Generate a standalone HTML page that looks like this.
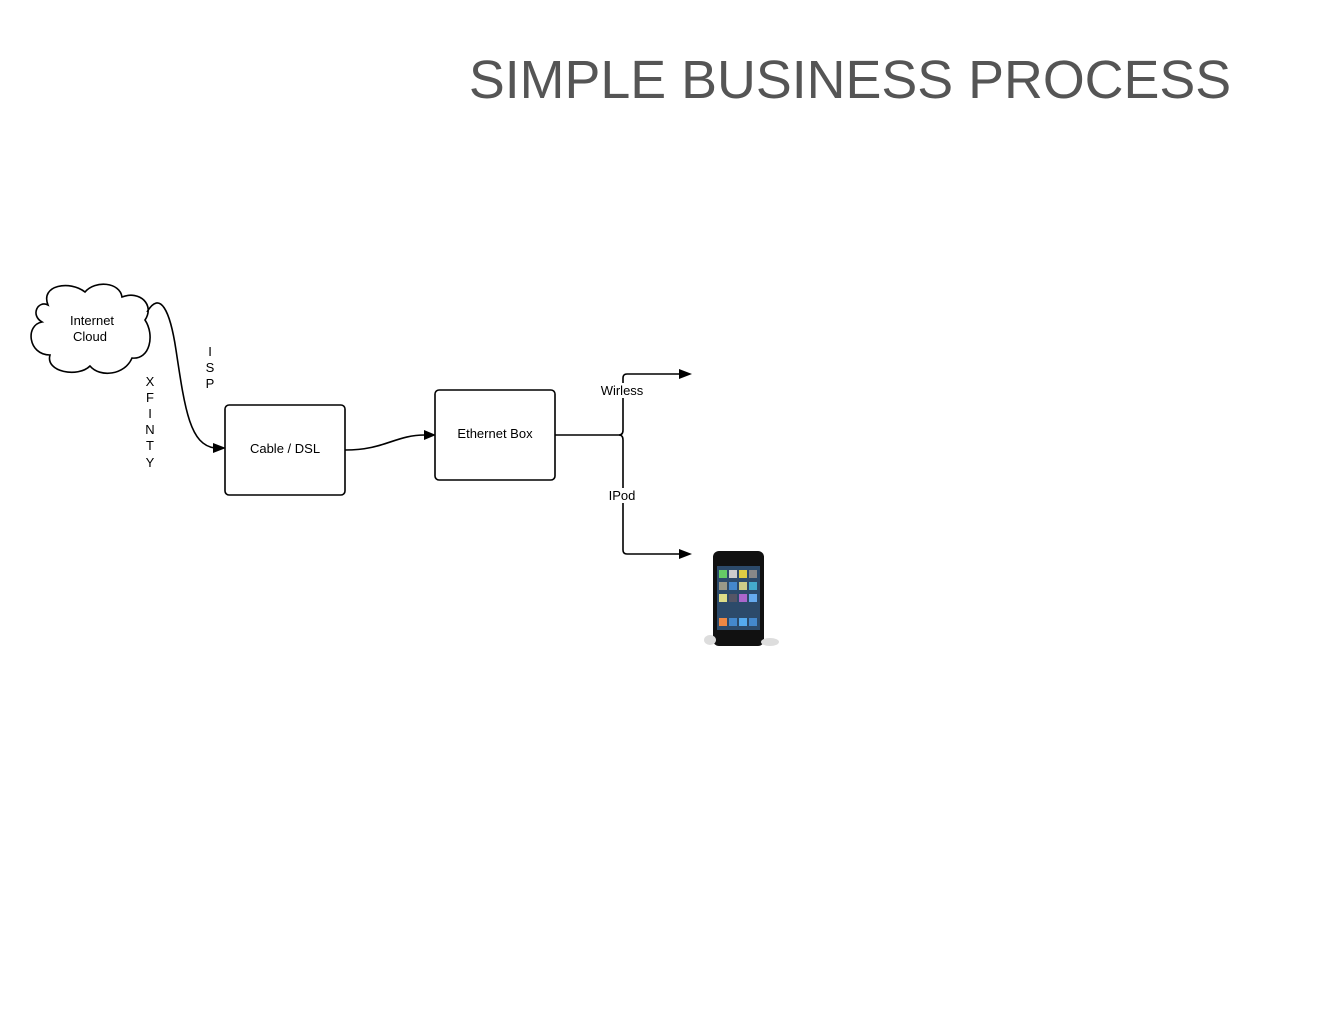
<!DOCTYPE html>
<html><head><meta charset="utf-8"><style>
body{margin:0;width:1320px;height:1020px;background:#fff;overflow:hidden;font-family:"Liberation Sans",sans-serif}
</style></head><body>
<svg width="1320" height="1020" xmlns="http://www.w3.org/2000/svg" font-family="Liberation Sans, sans-serif">
<text x="850" y="98" font-size="53.8" fill="#555" text-anchor="middle">SIMPLE BUSINESS PROCESS</text>
<path d="M48,305 C40,285 70,280 85,292 C95,280 120,282 122,297 C140,290 155,305 145,320 C155,335 150,360 132,358 C125,375 100,378 90,366 C78,378 45,372 50,355 C28,355 25,325 42,322 C30,315 38,300 48,305 Z" fill="#fff" stroke="#000" stroke-width="1.6"/>
<text x="92" y="325" font-size="13" text-anchor="middle">Internet</text>
<text x="90" y="341" font-size="13" text-anchor="middle">Cloud</text>
<path d="M147,312 C160,290 170,310 176,350 C185,410 190,445 215,448" fill="none" stroke="#000" stroke-width="1.6"/>
<polygon points="226,448 213,443 213,453" fill="#000"/>
<g font-size="13" text-anchor="middle"><text x="210" y="356">I</text><text x="210" y="372">S</text><text x="210" y="388">P</text>
<text x="150" y="386">X</text><text x="150" y="402">F</text><text x="150" y="418">I</text><text x="150" y="434">N</text><text x="150" y="450">T</text><text x="150" y="467">Y</text></g>
<rect x="225" y="405" width="120" height="90" rx="4" fill="#fff" stroke="#000" stroke-width="1.6"/>
<text x="285" y="453" font-size="13" text-anchor="middle">Cable / DSL</text>
<path d="M345,450 C385,450 395,435 425,435" fill="none" stroke="#000" stroke-width="1.6"/>
<polygon points="436,435 424,430 424,440" fill="#000"/>
<rect x="435" y="390" width="120" height="90" rx="4" fill="#fff" stroke="#000" stroke-width="1.6"/>
<text x="495" y="438" font-size="13" text-anchor="middle">Ethernet Box</text>
<path d="M555,435 H619 Q623,435 623,430 V378 Q623,374 627,374 H680 M623,440 V550 Q623,554 627,554 H680" fill="none" stroke="#000" stroke-width="1.6"/>
<path d="M619,435 Q623,435 623,440" fill="none" stroke="#000" stroke-width="1.6"/>
<polygon points="692,374 679,369 679,379" fill="#000"/>
<polygon points="692,554 679,549 679,559" fill="#000"/>
<rect x="598" y="383" width="50" height="15" fill="#fff"/>
<text x="622" y="395" font-size="13" text-anchor="middle">Wirless</text>
<rect x="606" y="488" width="34" height="15" fill="#fff"/>
<text x="622" y="500" font-size="13" text-anchor="middle">IPod</text>
<rect x="713" y="551" width="51" height="95" rx="6" fill="#111"/>
<rect x="717" y="566" width="43" height="64" fill="#2c4a6a"/>
<g><rect x="719" y="570" width="8" height="8" fill="#6c6"/><rect x="729" y="570" width="8" height="8" fill="#ccc"/><rect x="739" y="570" width="8" height="8" fill="#dc4"/><rect x="749" y="570" width="8" height="8" fill="#888"/>
<rect x="719" y="582" width="8" height="8" fill="#998"/><rect x="729" y="582" width="8" height="8" fill="#48c"/><rect x="739" y="582" width="8" height="8" fill="#cc8"/><rect x="749" y="582" width="8" height="8" fill="#4ac"/>
<rect x="719" y="594" width="8" height="8" fill="#dd8"/><rect x="729" y="594" width="8" height="8" fill="#556"/><rect x="739" y="594" width="8" height="8" fill="#a6c"/><rect x="749" y="594" width="8" height="8" fill="#6ae"/>
<rect x="719" y="618" width="8" height="8" fill="#e84"/><rect x="729" y="618" width="8" height="8" fill="#48c"/><rect x="739" y="618" width="8" height="8" fill="#5ae"/><rect x="749" y="618" width="8" height="8" fill="#48c"/></g>
<ellipse cx="710" cy="640" rx="6" ry="5" fill="#ddd"/><ellipse cx="770" cy="642" rx="9" ry="4" fill="#ddd"/>
</svg>
</body></html>
